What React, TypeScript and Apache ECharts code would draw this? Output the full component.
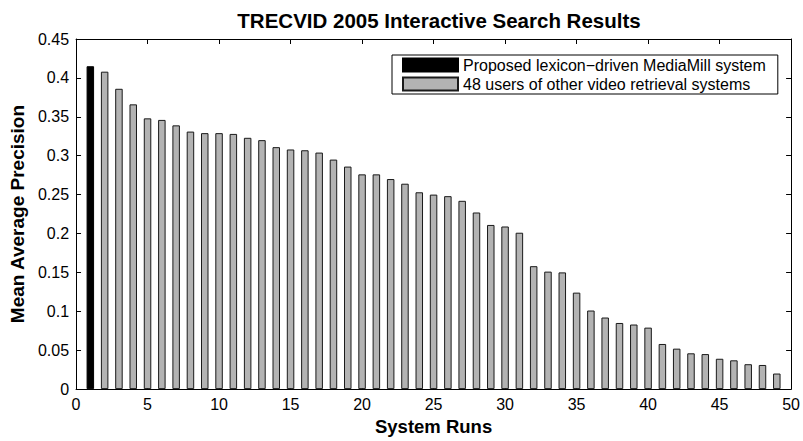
import React, { useEffect, useRef } from "react";
import * as echarts from "echarts";

const titleText = "TRECVID 2005 Interactive Search Results";
const xName = "System Runs";
const yName = "Mean Average Precision";
const proposedName = "Proposed lexicon\u2212driven MediaMill system";
const othersName = "48 users of other video retrieval systems";

const proposedRun = [1];
const proposedValue = [0.415];

const otherRuns = [
  2, 3, 4, 5, 6, 7, 8, 9, 10, 11, 12, 13, 14, 15, 16, 17, 18, 19, 20, 21, 22, 23, 24, 25,
  26, 27, 28, 29, 30, 31, 32, 33, 34, 35, 36, 37, 38, 39, 40, 41, 42, 43, 44, 45, 46, 47, 48, 49,
];
const otherValues = [
  0.408, 0.386, 0.366, 0.348, 0.346, 0.339, 0.331, 0.329, 0.329, 0.328, 0.323, 0.32,
  0.311, 0.308, 0.307, 0.304, 0.295, 0.286, 0.276, 0.276, 0.270, 0.264, 0.253, 0.250,
  0.248, 0.242, 0.227, 0.211, 0.209, 0.201, 0.158, 0.151, 0.150, 0.124, 0.101, 0.092,
  0.085, 0.083, 0.079, 0.058, 0.052, 0.046, 0.045, 0.039, 0.037, 0.032, 0.031, 0.020,
];

const FONT = "Liberation Sans, Arial, Helvetica, sans-serif";

export default function App() {
  const ref = useRef<HTMLDivElement>(null);
  useEffect(() => {
    document.body.style.margin = "0";
    if (!ref.current) return;
    const chart = echarts.init(ref.current, undefined, { renderer: "svg" });
    const axisLine = { show: true, onZero: false, lineStyle: { color: "#000", width: 1 } };
    const tickIn = { show: true, inside: true, length: 5, lineStyle: { color: "#000", width: 1 } };
    chart.setOption({
      animation: false,
      backgroundColor: "#fff",
      textStyle: { fontFamily: FONT },
      title: {
        text: titleText,
        left: 434,
        textAlign: "center",
        top: 5,
        textStyle: { fontFamily: FONT, fontSize: 20.5, fontWeight: "bold", color: "#000" },
      },
      legend: {
        orient: "vertical",
        left: 392,
        top: 55,
        icon: "rect",
        itemWidth: 55,
        itemHeight: 13,
        itemGap: 3,
        padding: [2, 12, 2, 10],
        borderColor: "#000",
        borderWidth: 1,
        backgroundColor: "#fff",
        textStyle: { fontFamily: FONT, fontSize: 16, color: "#000" },
        data: [proposedName, othersName],
      },
      grid: { left: 75, right: 9, top: 39, bottom: 48 },
      xAxis: [
        {
          type: "value",
          min: 0,
          max: 50,
          interval: 5,
          position: "bottom",
          axisLine,
          axisTick: tickIn,
          splitLine: { show: false },
          axisLabel: { color: "#000", fontSize: 16, margin: 7, fontFamily: FONT },
          name: xName,
          nameLocation: "middle",
          nameGap: 27,
          nameTextStyle: { fontFamily: FONT, fontSize: 18.5, fontWeight: "bold", color: "#000" },
        },
        {
          type: "value",
          min: 0,
          max: 50,
          interval: 5,
          position: "top",
          axisLine,
          axisTick: tickIn,
          splitLine: { show: false },
          axisLabel: { show: false },
        },
      ],
      yAxis: [
        {
          type: "value",
          min: 0,
          max: 0.45,
          interval: 0.05,
          position: "left",
          axisLine,
          axisTick: tickIn,
          splitLine: { show: false },
          axisLabel: { color: "#000", fontSize: 16, margin: 7, fontFamily: FONT },
          name: yName,
          nameLocation: "middle",
          nameGap: 49,
          nameTextStyle: { fontFamily: FONT, fontSize: 19, fontWeight: "bold", color: "#000" },
        },
        {
          type: "value",
          min: 0,
          max: 0.45,
          interval: 0.05,
          position: "right",
          axisLine,
          axisTick: tickIn,
          splitLine: { show: false },
          axisLabel: { show: false },
        },
      ],
      series: [
        {
          name: proposedName,
          type: "bar",
          xAxisIndex: 0,
          yAxisIndex: 0,
          barWidth: 7.5,
          barGap: "-100%",
          data: proposedRun.map((r, i) => [r, proposedValue[i]]),
          itemStyle: { color: "#000", borderColor: "#000", borderWidth: 1 },
        },
        {
          name: othersName,
          type: "bar",
          xAxisIndex: 0,
          yAxisIndex: 0,
          barWidth: 7.5,
          barGap: "-100%",
          data: otherRuns.map((r, i) => [r, otherValues[i]]),
          itemStyle: { color: "#b3b3b3", borderColor: "#1a1a1a", borderWidth: 1 },
        },
      ],
    });
    return () => chart.dispose();
  }, []);
  return <div ref={ref} style={{ width: 803, height: 441 }} />;
}
